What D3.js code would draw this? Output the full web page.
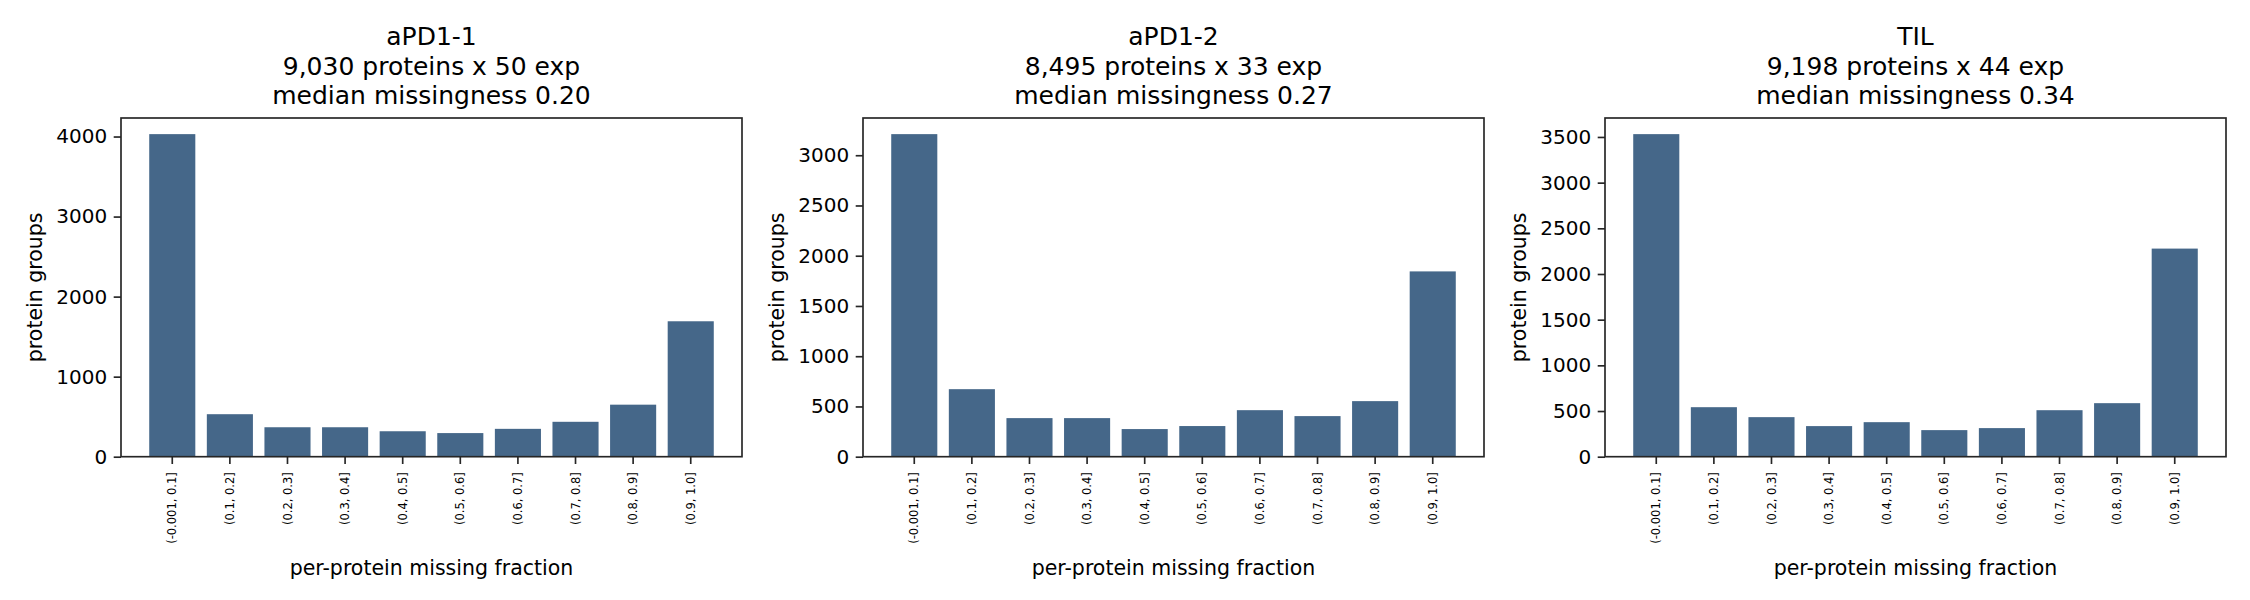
<!DOCTYPE html>
<html>
<head>
<meta charset="utf-8">
<script src="https://cdn.jsdelivr.net/npm/d3@7"></script>
<style>
  html, body { margin: 0; padding: 0; background: #ffffff; }
  svg text { font-family: "DejaVu Sans", sans-serif; }
</style>
</head>
<body>
<svg id="chart" width="2250" height="600"></svg>
<script>
// ---- data ----
const categories = ["(-0.001, 0.1]", "(0.1, 0.2]", "(0.2, 0.3]", "(0.3, 0.4]", "(0.4, 0.5]",
                    "(0.5, 0.6]", "(0.6, 0.7]", "(0.7, 0.8]", "(0.8, 0.9]", "(0.9, 1.0]"];
const titlesAPD1_1 = ["aPD1-1", "9,030 proteins x 50 exp", "median missingness 0.20"];
const titlesAPD1_2 = ["aPD1-2", "8,495 proteins x 33 exp", "median missingness 0.27"];
const titlesTIL    = ["TIL", "9,198 proteins x 44 exp", "median missingness 0.34"];
const valuesAPD1_1 = [4030, 531, 368, 368, 318, 295, 348, 436, 650, 1692];
const valuesAPD1_2 = [3210, 672, 384, 384, 275, 305, 463, 404, 553, 1844];
const valuesTIL    = [3531, 542, 433, 335, 378, 291, 313, 509, 586, 2278];
const yTicksAPD1_1 = [0, 1000, 2000, 3000, 4000];
const yTicksAPD1_2 = [0, 500, 1000, 1500, 2000, 2500, 3000];
const yTicksTIL    = [0, 500, 1000, 1500, 2000, 2500, 3000, 3500];
const yLabel = "protein groups";
const xLabel = "per-protein missing fraction";

const panels = [
  { titles: titlesAPD1_1, values: valuesAPD1_1, ticks: yTicksAPD1_1 },
  { titles: titlesAPD1_2, values: valuesAPD1_2, ticks: yTicksAPD1_2 },
  { titles: titlesTIL,    values: valuesTIL,    ticks: yTicksTIL }
];

// ---- layout ----
const svg = d3.select("#chart");
const panelLefts = [121, 863, 1605];
const pw = 621;
const plotTop = 118, plotBottom = 456.7;
const barColor = "#456789";
const ink = "#262626";
const tickLen = 7.3;

panels.forEach((p, i) => {
  const g = svg.append("g").attr("transform", `translate(${panelLefts[i]},0)`);

  const x = d3.scaleBand()
    .domain(categories)
    .range([0, pw])
    .paddingInner(0.2)
    .paddingOuter(0.49);

  const y = d3.scaleLinear()
    .domain([0, d3.max(p.values) * 1.05])
    .range([plotBottom, plotTop]);

  // bars
  g.selectAll("rect.bar")
    .data(p.values)
    .join("rect")
    .attr("class", "bar")
    .attr("x", (d, j) => x(categories[j]))
    .attr("width", x.bandwidth())
    .attr("y", d => y(d))
    .attr("height", d => y(0) - y(d))
    .attr("fill", barColor);

  // y axis
  const yAxis = d3.axisLeft(y).tickValues(p.ticks).tickFormat(d3.format("d"))
    .tickSize(tickLen).tickPadding(6.5);
  const ya = g.append("g").call(yAxis);
  ya.select(".domain").remove();
  ya.selectAll(".tick line").attr("stroke", ink).attr("stroke-width", 1.67);
  ya.selectAll(".tick text").attr("fill", "#000").style("font-size", "20px")
    .style("font-family", "DejaVu Sans, sans-serif");

  // x axis
  const xAxis = d3.axisBottom(x).tickSize(tickLen).tickPadding(0);
  const xa = g.append("g").attr("transform", `translate(0,${plotBottom})`).call(xAxis);
  xa.select(".domain").remove();
  xa.selectAll(".tick line").attr("stroke", ink).attr("stroke-width", 1.67);
  xa.selectAll(".tick text")
    .attr("fill", "#000")
    .style("font-size", "11.5px")
    .style("font-family", "DejaVu Sans, sans-serif")
    .attr("transform", "rotate(-90)")
    .attr("x", -15.5)
    .attr("y", 0)
    .attr("dy", "0.35em")
    .attr("text-anchor", "end");

  // frame
  g.append("rect")
    .attr("x", 0).attr("y", plotTop)
    .attr("width", pw).attr("height", plotBottom - plotTop)
    .attr("fill", "none").attr("stroke", ink).attr("stroke-width", 1.67);

  // title
  const titleBaselines = [45, 74.7, 104.4];
  g.selectAll("text.title")
    .data(p.titles)
    .join("text")
    .attr("class", "title")
    .attr("x", pw / 2)
    .attr("y", (d, k) => titleBaselines[k])
    .attr("text-anchor", "middle")
    .attr("fill", "#000")
    .style("font-size", "25px")
    .text(d => d);

  // y label
  g.append("text")
    .attr("transform", `translate(-86,${(plotTop + plotBottom) / 2}) rotate(-90)`)
    .attr("text-anchor", "middle")
    .attr("dy", "0.35em")
    .attr("fill", "#000")
    .style("font-size", "20.5px")
    .text(yLabel);

  // x label
  g.append("text")
    .attr("x", pw / 2)
    .attr("y", 575)
    .attr("text-anchor", "middle")
    .attr("fill", "#000")
    .style("font-size", "20.5px")
    .text(xLabel);
});
</script>
</body>
</html>
